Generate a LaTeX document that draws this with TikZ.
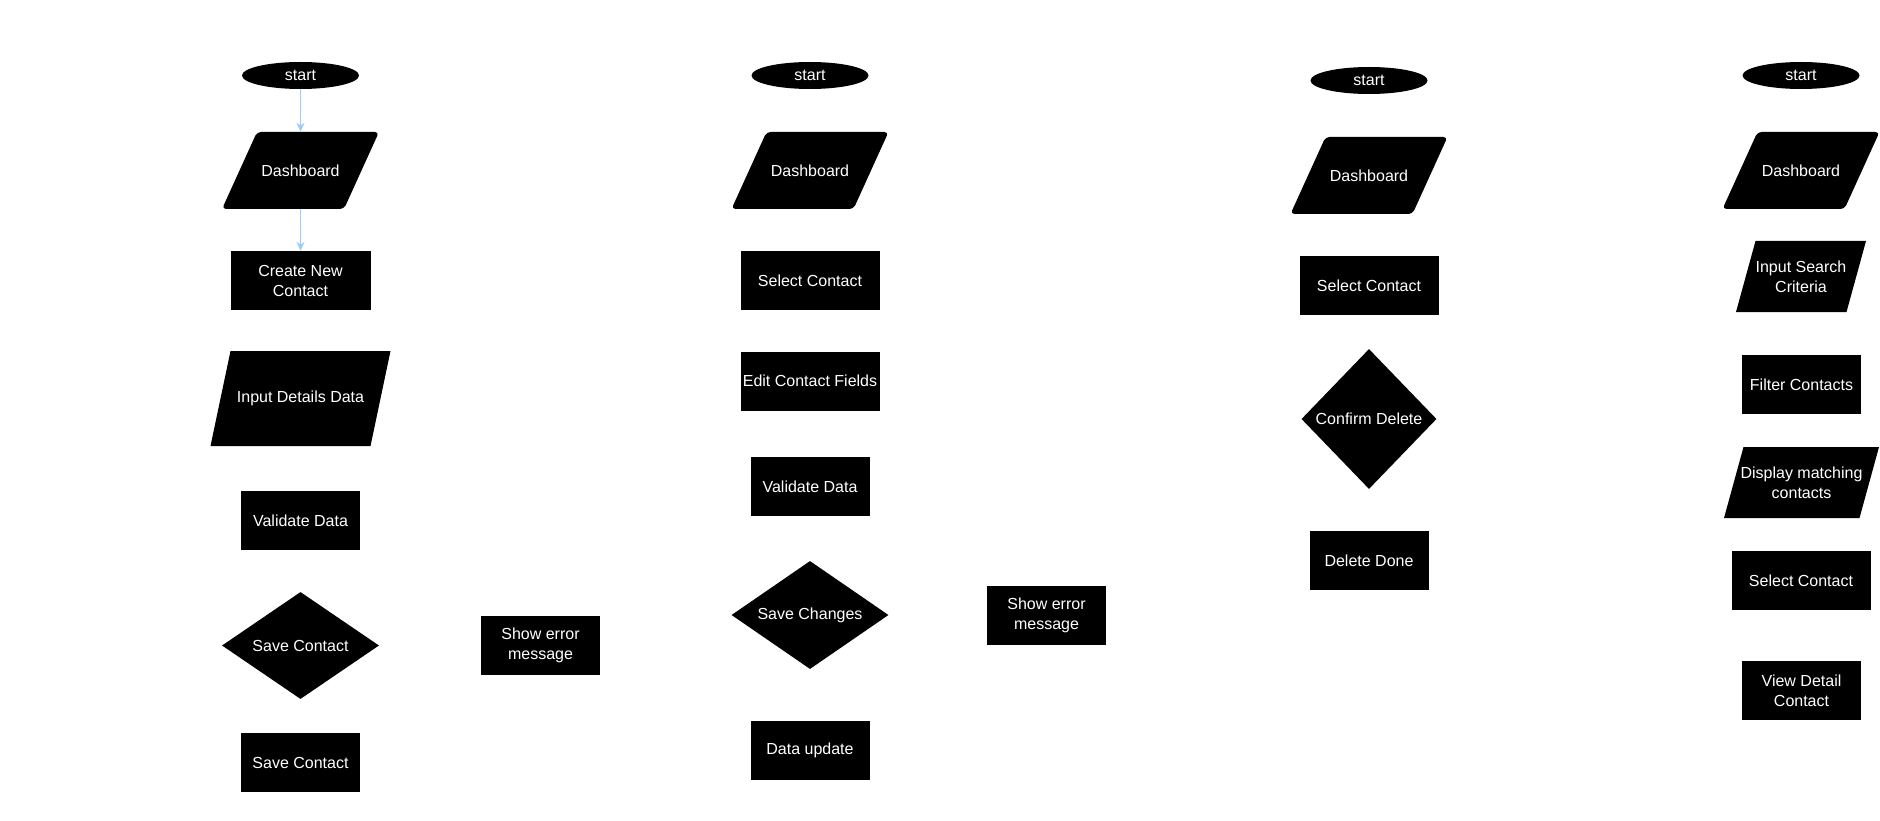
\documentclass[tikz,border=0pt]{standalone}
\usepackage{fontspec}
\setmainfont{Liberation Sans}
\usetikzlibrary{shapes.geometric,arrows.meta}
\definecolor{flowblue}{RGB}{153,204,255}
\begin{document}
\begin{tikzpicture}[x=1pt,y=-1pt,
    every node/.style={fill=black,text=white,inner sep=0pt,align=center,
        font=\fontsize{16}{20}\selectfont},
    term/.style={ellipse,minimum width=117pt,minimum height=27pt},
    proc/.style={rectangle,minimum width=119pt,minimum height=59pt},
    wideproc/.style={proc,minimum width=139pt},
    inbox/.style={rectangle,fill=white,path picture={
        \fill[black] ([xshift=#1]path picture bounding box.north west)
          -- (path picture bounding box.north east)
          -- ([xshift=-#1]path picture bounding box.south east)
          -- (path picture bounding box.south west) -- cycle;}},
    dashboardbox/.style={rectangle,fill=white,minimum width=157pt,minimum height=77pt,
      path picture={
        \fill[black,rounded corners=4pt] ([xshift=35pt]path picture bounding box.north west)
          -- (path picture bounding box.north east)
          -- ([xshift=-35pt]path picture bounding box.south east)
          -- (path picture bounding box.south west) -- cycle;}},
    decide/.style={diamond,aspect=1.47,minimum width=157pt,minimum height=107pt},
    flow/.style={draw=flowblue,line width=1.2pt,-{Stealth[length=9pt,width=8pt]}}]
    \useasboundingbox (0,0) rectangle (1880,821);

    % create contact
    \node[term] (start1) at (300.5,75.5) {start};
    \node[dashboardbox] (dash1) at (300.5,170.5) {Dashboard};
    \node[proc,minimum width=140pt] (create) at (300.5,280.5) {Create New\\Contact};
    \node[inbox=20pt,minimum width=180pt,minimum height=95pt] (input1) at (300.5,398.5) {Input Details Data};
    \node[proc] (valid1) at (300.5,520.5) {Validate Data};
    \node[decide] (savedec) at (300.5,645.5) {Save Contact};
    \node[proc] (savebox) at (300.5,762.5) {Save Contact};
    \node[proc] (err1) at (540.5,645.5) {Show error\\message};
    \draw[flow] (start1) -- (dash1);
    \draw[flow] (dash1) -- (create);

    % edit contact
    \node[term] (start2) at (810,75.5) {start};
    \node[dashboardbox] (dash2) at (810,170.5) {Dashboard};
    \node[wideproc] (select2) at (810,280.5) {Select Contact};
    \node[wideproc] (edit) at (810,381) {Edit Contact Fields};
    \node[proc] (valid2) at (810,486.5) {Validate Data};
    \node[decide,minimum height=108pt] (savech) at (810,615) {Save Changes};
    \node[proc] (update) at (810,750.5) {Data update};
    \node[proc] (err2) at (1046.5,615.5) {Show error\\message};

    % delete contact
    \node[term] (start3) at (1369,80.5) {start};
    \node[dashboardbox] (dash3) at (1369,175.5) {Dashboard};
    \node[wideproc] (select3) at (1369,285.5) {Select Contact};
    \node[diamond,minimum width=135pt,minimum height=140pt] (confirm) at (1369,419) {Confirm Delete};
    \node[proc] (deldone) at (1369,560.5) {Delete Done};

    % search contact
    \node[term] (start4) at (1801,75.5) {start};
    \node[dashboardbox] (dash4) at (1801,170.5) {Dashboard};
    \node[inbox=19.5pt,minimum width=130pt,minimum height=71pt] (search) at (1801,276.5) {Input Search\\Criteria};
    \node[proc] (filter) at (1801.5,384.5) {Filter Contacts};
    \node[inbox=19.5pt,minimum width=155pt,minimum height=71pt] (display) at (1801.5,482.5) {Display matching\\contacts};
    \node[wideproc] (select4) at (1801,580.5) {Select Contact};
    \node[proc] (view) at (1801.5,690.5) {View Detail\\Contact};
\end{tikzpicture}
\end{document}
